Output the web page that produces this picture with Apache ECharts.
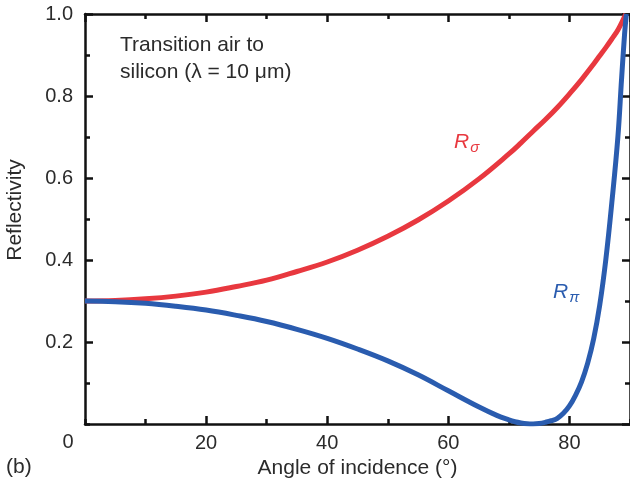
<!DOCTYPE html>
<html lang="en">
<head>
    <meta charset="UTF-8">
    <script src="https://cdn.jsdelivr.net/npm/echarts@6/dist/echarts.min.js"></script>
    <style>
        html, body { margin: 0; padding: 0; background: #fff; }
        #chart { width: 630px; height: 484px; }
    </style>
</head>
<body>
<div id="chart"></div>
<script type="text/javascript">
    // R sigma (red): angle of incidence (deg) and reflectivity
    var anglesSigma = [0, 5, 10, 15, 20, 25, 30, 35, 40, 45, 50, 55, 60, 65, 70, 72, 74, 76, 78, 80, 82, 84, 85, 86, 87, 88, 89.3];
    var rSigma = [0.2998, 0.3011, 0.3052, 0.3119, 0.3217, 0.3355, 0.3509, 0.3720, 0.3951, 0.4239, 0.4579, 0.4976, 0.5438, 0.5972, 0.6587, 0.6857, 0.7141, 0.7420, 0.7720, 0.8050, 0.8400, 0.8780, 0.8980, 0.9180, 0.9390, 0.9610, 1.0];
    // R pi (blue)
    var anglesPi = [0, 5, 10, 15, 20, 25, 30, 35, 40, 45, 50, 55, 60, 65, 68, 70, 71, 72, 73, 74, 75, 76, 77, 78, 79, 80, 81, 82, 83, 84, 85, 86, 87, 88, 88.6, 89.1, 89.4];
    var rPi = [0.2998, 0.2984, 0.2944, 0.2872, 0.2779, 0.2650, 0.2500, 0.2310, 0.2090, 0.1830, 0.1540, 0.1200, 0.0810, 0.0420, 0.0210, 0.0100, 0.0055, 0.0025, 0.0007, 0.0002, 0.0012, 0.0040, 0.0080, 0.0140, 0.0260, 0.0440, 0.0700, 0.1030, 0.1480, 0.2080, 0.2900, 0.4000, 0.5400, 0.7000, 0.8400, 0.9500, 1.0];

    function pairs(xs, ys) {
        var out = [];
        for (var i = 0; i < xs.length; i++) out.push([xs[i], ys[i]]);
        return out;
    }

    var font = 'Liberation Sans, Arial, sans-serif';
    var txt = '#2b2b2b';

    // one axis = one set of inward ticks; labels only on the main ones
    function axis(kind, pos, step, len, showLine, label) {
        return {
            type: 'value', position: pos,
            min: 0, max: kind === 'x' ? 90 : 1, interval: step,
            axisLine: { show: showLine, onZero: false, lineStyle: { color: '#111', width: 2.5 } },
            axisTick: { show: true, inside: true, length: len, lineStyle: { color: '#111', width: 2.5 } },
            splitLine: { show: false },
            axisLabel: label || { show: false }
        };
    }

    var xMain = axis('x', 'bottom', 20, 8, true, {
        showMinLabel: false, showMaxLabel: false, fontSize: 20, color: txt, fontFamily: font, margin: 9
    });
    xMain.name = 'Angle of incidence (°)';
    xMain.nameLocation = 'middle';
    xMain.nameGap = 31;
    xMain.nameTextStyle = { fontSize: 21, color: txt, fontFamily: font };

    var yMain = axis('y', 'left', 0.2, 8, true, {
        showMinLabel: false, fontSize: 20, color: txt, fontFamily: font, margin: 12,
        formatter: function (v) { return v.toFixed(1); }
    });

    var chart = echarts.init(document.getElementById('chart'));
    chart.setOption({
        animation: false,
        grid: { left: 85, top: 14, width: 550, height: 410, containLabel: false },
        xAxis: [
            xMain,
            axis('x', 'top', 20, 8, true),
            axis('x', 'bottom', 10, 5, false),
            axis('x', 'top', 10, 5, false)
        ],
        yAxis: [
            yMain,
            axis('y', 'right', 0.2, 8, true),
            axis('y', 'left', 0.1, 5, false),
            axis('y', 'right', 0.1, 5, false)
        ],
        series: [{
            type: 'line', name: 'Rs', data: pairs(anglesSigma, rSigma), smooth: 0.4,
            showSymbol: false, lineStyle: { color: '#e8383f', width: 5 }, z: 3
        }, {
            type: 'line', name: 'Rp', data: pairs(anglesPi, rPi), smooth: 0.4,
            showSymbol: false, lineStyle: { color: '#2a5caf', width: 5 }, z: 4
        }],
        graphic: [
            { type: 'text', x: 68, y: 442, style: { text: '0', fontSize: 20, fill: txt, fontFamily: font, align: 'center', verticalAlign: 'middle' } },
            { type: 'text', x: 6, y: 467, style: { text: '(b)', fontSize: 21, fill: txt, fontFamily: font, verticalAlign: 'middle' } },
            { type: 'text', x: 15, y: 210, rotation: Math.PI / 2, style: { text: 'Reflectivity', fontSize: 21, fill: txt, fontFamily: font, align: 'center', verticalAlign: 'middle' } },
            { type: 'text', x: 120, y: 32, style: { text: 'Transition air to\nsilicon (λ = 10 μm)', fontSize: 21, lineHeight: 27, fill: txt, fontFamily: font } },
            { type: 'text', x: 454, y: 129, style: {
                text: '{r|R}{s|σ}',
                rich: { r: { fontSize: 21, fontStyle: 'italic', fontFamily: font, fill: '#e8383f' },
                        s: { fontSize: 15, fontStyle: 'italic', fontFamily: font, fill: '#e8383f', padding: [11, 0, 0, 1] } }
            } },
            { type: 'text', x: 553, y: 279, style: {
                text: '{r|R}{s|π}',
                rich: { r: { fontSize: 21, fontStyle: 'italic', fontFamily: font, fill: '#2a5caf' },
                        s: { fontSize: 15, fontStyle: 'italic', fontFamily: font, fill: '#2a5caf', padding: [11, 0, 0, 1] } }
            } }
        ]
    });
</script>
</body>
</html>
